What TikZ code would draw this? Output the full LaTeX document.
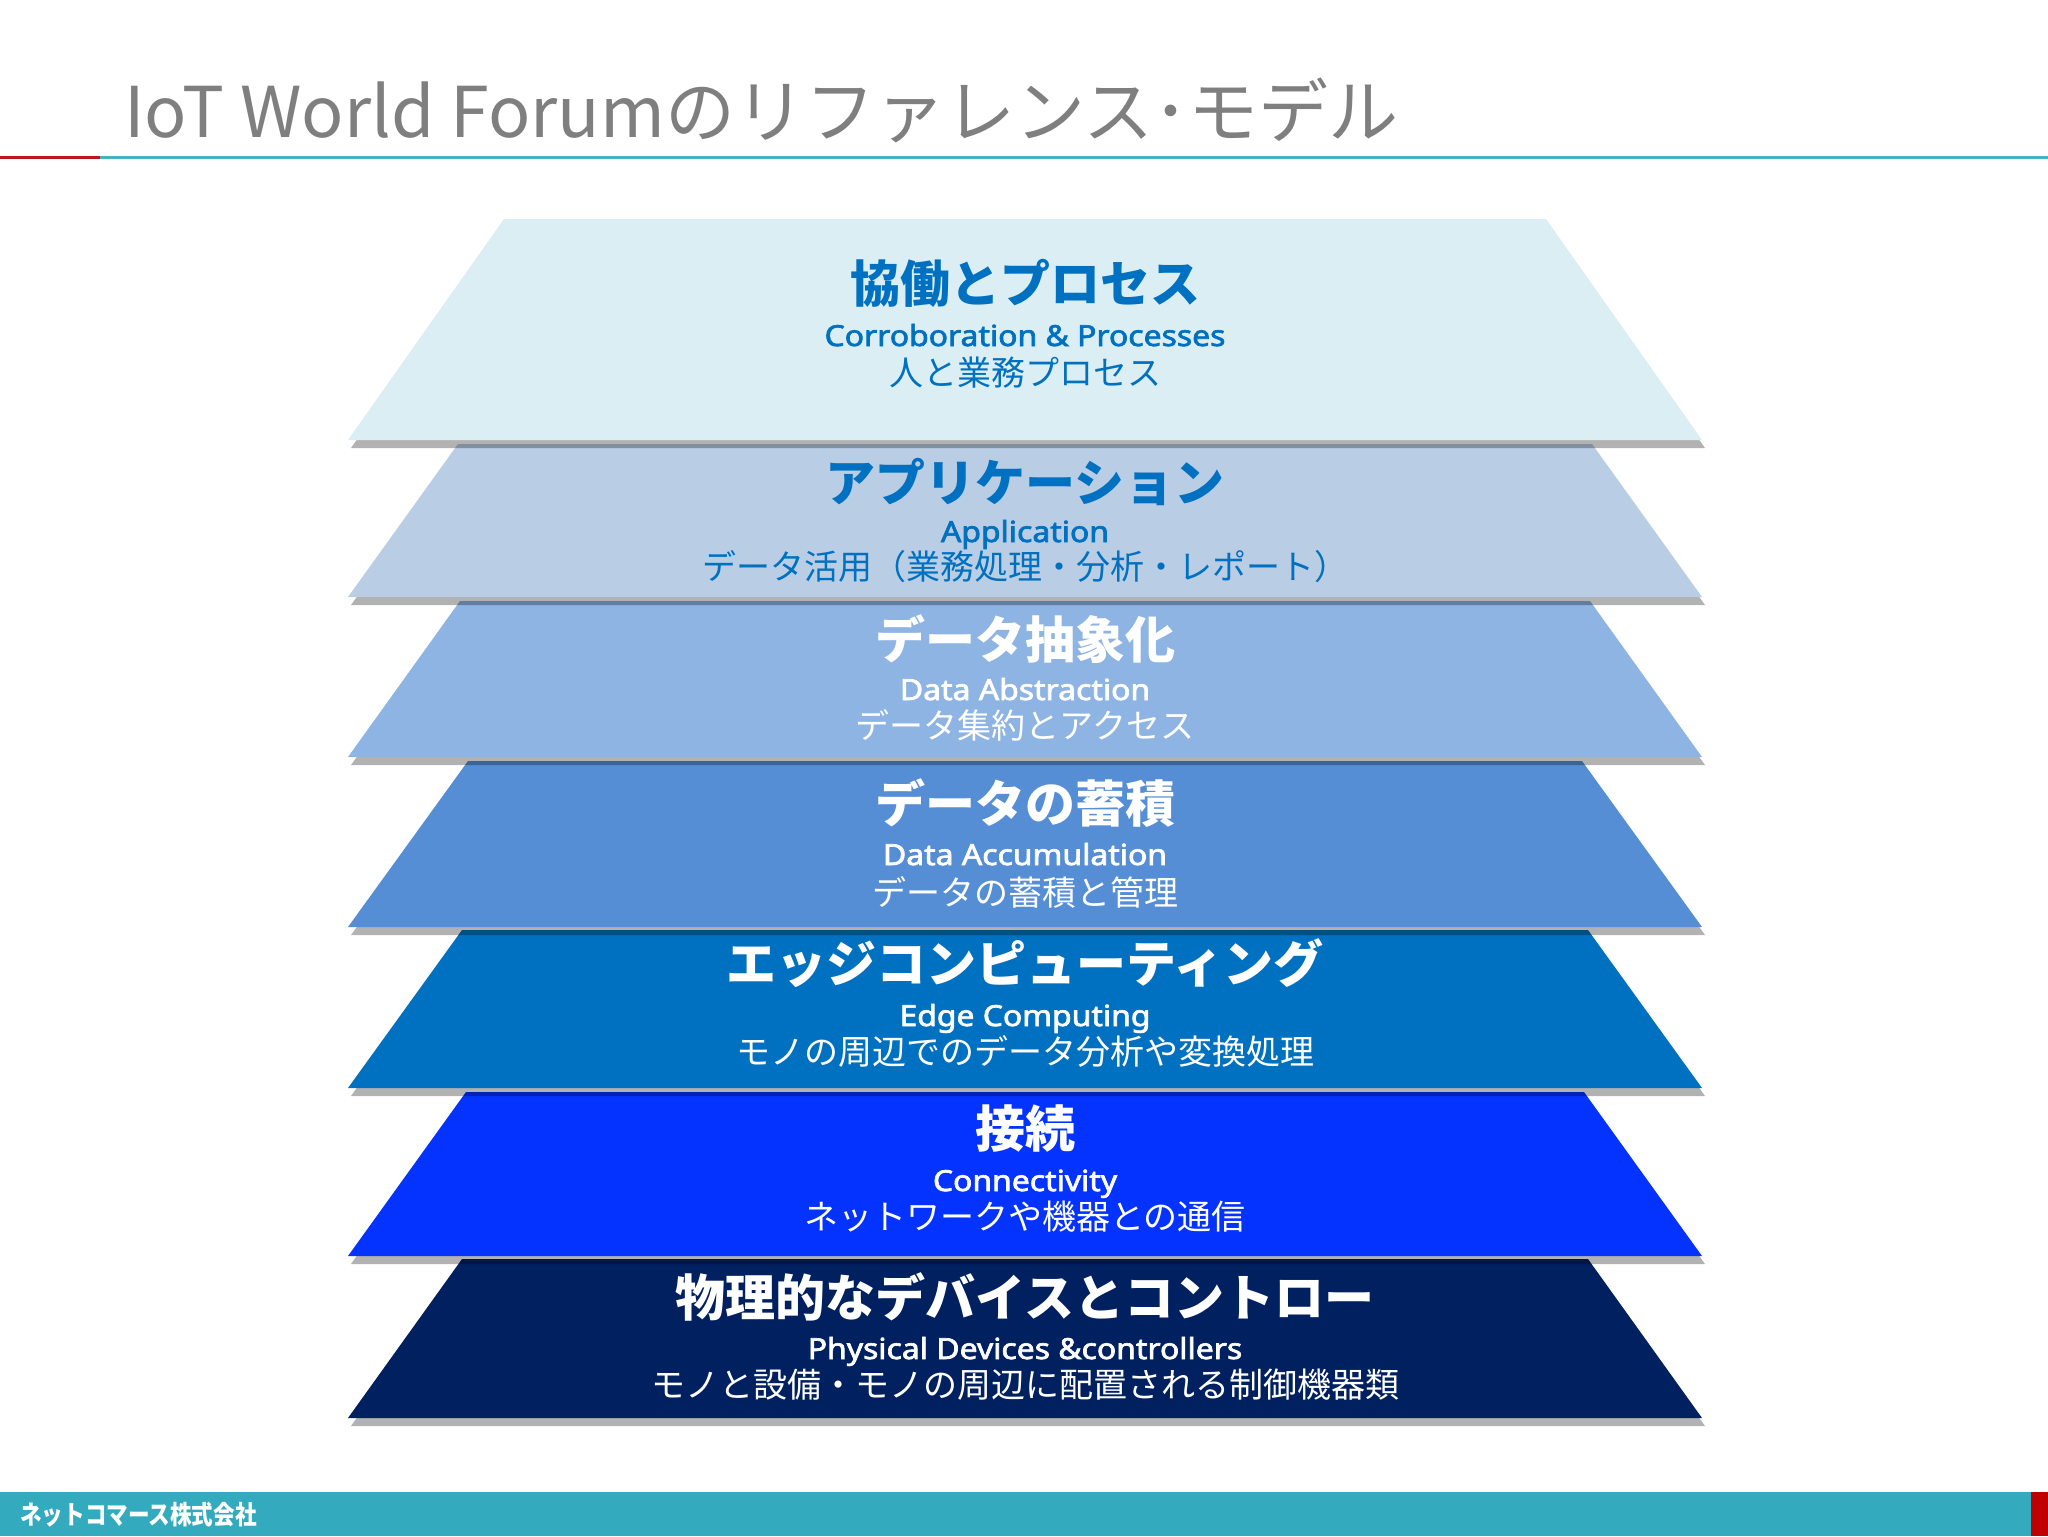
\documentclass[tikz,border=0pt]{standalone}
\usepackage{fontspec}
\setmainfont{Noto Sans CJK JP}
\newfontfamily\latinfont{Noto Sans}[AutoFakeBold=2.2]
\usetikzlibrary{shadows}

\definecolor{titlegray}{HTML}{7F7F7F}
\definecolor{rulered}{HTML}{C0141E}
\definecolor{ruleteal}{HTML}{4AAFC2}
\definecolor{footteal}{HTML}{34AABE}
\definecolor{footred}{HTML}{C00000}
\definecolor{darktext}{HTML}{0070C0}
\definecolor{layerA}{HTML}{DAEEF3}
\definecolor{layerB}{HTML}{B9CDE5}
\definecolor{layerC}{HTML}{8EB4E3}
\definecolor{layerD}{HTML}{558ED5}
\definecolor{layerE}{HTML}{0070C0}
\definecolor{layerF}{HTML}{0433FF}
\definecolor{layerG}{HTML}{002060}

\begin{document}
\begin{tikzpicture}[x=0.5pt,y=-0.5pt]
\tikzset{layer/.style = {draw=none, drop shadow={shadow xshift=1.5pt, shadow yshift=-4pt, opacity=0.3, fill=black}}}
\tikzset{head/.style = {anchor=base, font=\fontsize{25pt}{25pt}\selectfont\bfseries}}
\tikzset{eng/.style = {anchor=base, xscale=1.1, font=\latinfont\bfseries\fontsize{14.5pt}{15pt}\selectfont}}
\tikzset{sub/.style = {anchor=base, font=\fontsize{17pt}{17pt}\selectfont}}
\useasboundingbox[fill=white] (0,0) rectangle (2048,1536);
% title and rule
\node[anchor=base west, inner sep=0, text=titlegray, font=\fontsize{35pt}{35pt}\selectfont] (title) at (124,137) {IoT World Forumのリファレンス･モデル};
\draw[rulered, line width=1.5pt] (0,157) -- (100,157);
\draw[ruleteal, line width=1.5pt] (100,157) -- (2048,157);
% footer
\fill[footteal] (0,1492) rectangle (2048,1536);
\fill[footred] (2031,1492) rectangle (2048,1536);
\node[anchor=west, inner sep=0, text=white, xscale=0.83, font=\fontsize{13pt}{13pt}\selectfont\bfseries] (company) at (20,1515) {ネットコマース株式会社};
% layers, bottom first
\fill[layer, layerG] (348,1418) -- (1702,1418) -- (1588,1259) -- (462,1259) -- cycle;
\fill[layer, layerF] (348,1256) -- (1702,1256) -- (1584,1092) -- (466,1092) -- cycle;
\fill[layer, layerE] (348,1088) -- (1702,1088) -- (1588,930) -- (462,930) -- cycle;
\fill[layer, layerD] (348,927) -- (1702,927) -- (1582,761) -- (468,761) -- cycle;
\fill[layer, layerC] (348,757) -- (1702,757) -- (1590,601) -- (460,601) -- cycle;
\fill[layer, layerB] (348,597) -- (1702,597) -- (1592,444) -- (458,444) -- cycle;
\fill[layer, layerA] (348,440) -- (1702,440) -- (1546,219) -- (504,219) -- cycle;
% labels
\node[head, text=darktext] (h1) at (1025,302) {協働とプロセス};
\node[eng, text=darktext] (e1) at (1025,346) {Corroboration \& Processes};
\node[sub, text=darktext] (s1) at (1025,385) {人と業務プロセス};
\node[head, text=darktext] (h2) at (1025,501) {アプリケーション};
\node[eng, text=darktext] (e2) at (1025,542) {Application};
\node[sub, text=darktext] (s2) at (1025,579) {データ活用（業務処理・分析・レポート）};
\node[head, text=white] (h3) at (1025,658) {データ抽象化};
\node[eng, text=white] (e3) at (1025,700) {Data Abstraction};
\node[sub, text=white] (s3) at (1025,738) {データ集約とアクセス};
\node[head, text=white] (h4) at (1025,822) {データの蓄積};
\node[eng, text=white] (e4) at (1025,865) {Data Accumulation};
\node[sub, text=white] (s4) at (1025,905) {データの蓄積と管理};
\node[head, text=white] (h5) at (1025,982) {エッジコンピューティング};
\node[eng, text=white] (e5) at (1025,1026) {Edge Computing};
\node[sub, text=white] (s5) at (1025,1064) {モノの周辺でのデータ分析や変換処理};
\node[head, text=white] (h6) at (1025,1147) {接続};
\node[eng, text=white] (e6) at (1025,1191) {Connectivity};
\node[sub, text=white] (s6) at (1025,1229) {ネットワークや機器との通信};
\node[head, text=white] (h7) at (1025,1316) {物理的なデバイスとコントロー};
\node[eng, text=white] (e7) at (1025,1359) {Physical Devices \&controllers};
\node[sub, text=white] (s7) at (1025,1397) {モノと設備・モノの周辺に配置される制御機器類};
\end{tikzpicture}
\end{document}
